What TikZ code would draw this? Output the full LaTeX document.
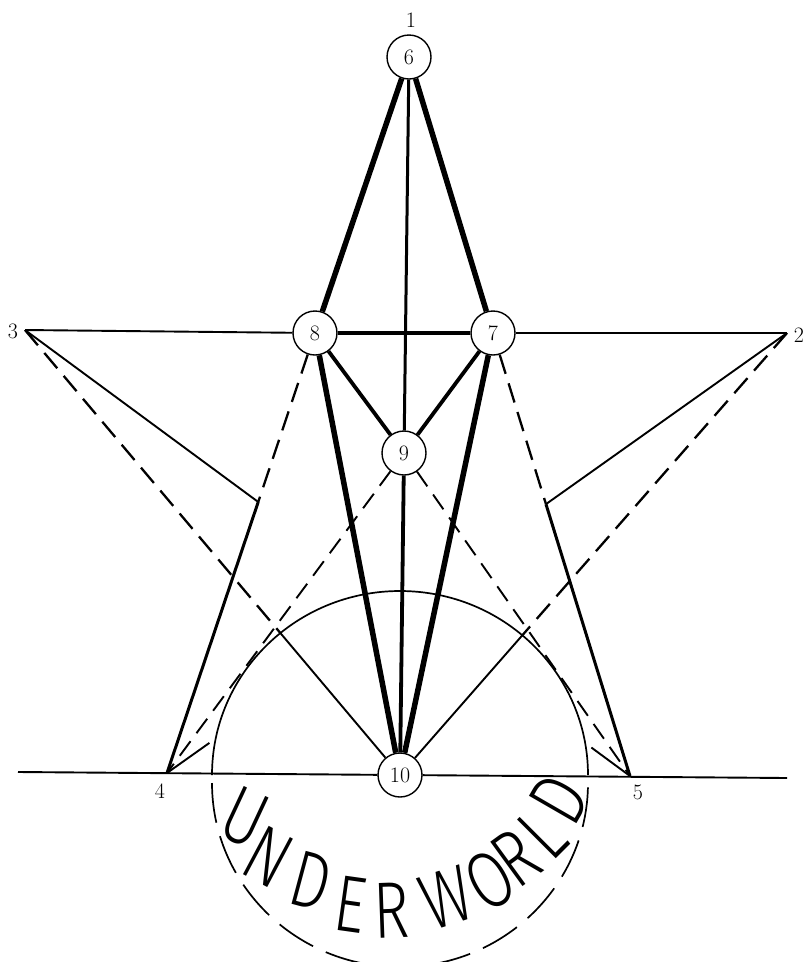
\documentclass[tikz,border=0pt]{standalone}
\usepackage{fontspec}
\newfontfamily\uwfont{Fira Sans Light}
\usetikzlibrary{calc}
\begin{document}
\begin{tikzpicture}[x=1pt,y=1pt,
  vert/.style={circle, draw, line width=1.4pt, minimum size=44pt, inner sep=0pt, fill=white, font=\fontsize{22}{22}\selectfont},
  lbl/.style={inner sep=0pt, font=\fontsize{22}{22}\selectfont},
  heavy/.style={line width=5.5pt},
  medium/.style={line width=3.8pt},
  lean/.style={line width=3pt},
  slim/.style={line width=1.9pt},
  dashline/.style={line width=2.3pt, dash pattern=on 20pt off 10pt},
  dashthin/.style={line width=1.9pt, dash pattern=on 18pt off 10pt},
  dashcirc/.style={line width=1.7pt, dash pattern=on 40pt off 14pt},
  letter/.style={inner sep=0pt, xscale=0.76, font=\uwfont\fontsize{80}{80}\selectfont}]
\useasboundingbox (0,0) rectangle (805,-962);
% coordinates
\coordinate (c6) at (409,-57);
\coordinate (c8) at (315,-333);
\coordinate (c7) at (493,-333);
\coordinate (c9) at (404,-453);
\coordinate (c10) at (400,-775);
\coordinate (P3) at (25,-330);
\coordinate (P2) at (787,-333);
\coordinate (P4) at (167,-773);
\coordinate (P5) at (630,-776);
\coordinate (L0) at (18,-772);
\coordinate (L1) at (787,-778);
\coordinate (X1) at (intersection of P3--P5 and c8--P4);
\coordinate (X2) at (intersection of P2--P4 and c7--P5);
\coordinate (E3) at ($(c10)!186pt!(P3)$);
\coordinate (E2) at ($(c10)!186pt!(P2)$);
\coordinate (F4) at ($(P4)!52pt!(P2)$);
\coordinate (F5) at ($(P5)!48pt!(P3)$);
% nodes
\node[vert] (N6) at (c6) {6};
\node[vert] (N8) at (c8) {8};
\node[vert] (N7) at (c7) {7};
\node[vert] (N9) at (c9) {9};
\node[vert] (N10) at (c10) {10};
% labels
\node[lbl] (t1) at (411,-20) {1};
\node[lbl] (t2) at (799,-335) {2};
\node[lbl] (t3) at (13,-331) {3};
\node[lbl] (t4) at (160,-791) {4};
\node[lbl] (t5) at (638,-792) {5};
% circle
\draw[line width=1.7pt] ($(c10)+(188,0)$) arc[start angle=0, end angle=180, x radius=188, y radius=184];
\draw[dashcirc] ($(c10)+(-188,-8)$) arc[start angle=180, end angle=360, x radius=188, y radius=184];
% base line
\draw[slim] (L0) -- (N10);
\draw[slim] (N10) -- (L1);
% top line
\draw[slim] (P3) -- (N8);
\draw[medium] (N8) -- (N7);
\draw[slim] (N7) -- (P2);
% inner star
\draw[heavy] (N6) -- (N8);
\draw[heavy] (N6) -- (N7);
\draw[lean] (N6) -- (N9);
\draw[medium] (N9) -- (N10);
\draw[medium] (N8) -- (N9);
\draw[medium] (N7) -- (N9);
\draw[heavy] (N8) -- (N10);
\draw[heavy] (N7) -- (N10);
% outer legs
\draw[dashline] (N8) -- (X1);
\draw[lean] (X1) -- (P4);
\draw[dashline] (N7) -- (X2);
\draw[lean] (X2) -- (P5);
\draw[slim] (P3) -- (X1);
\draw[slim] (P2) -- (X2);
\draw[dashline] (P3) -- (E3);
\draw[slim] (E3) -- (N10);
\draw[dashline] (P2) -- (E2);
\draw[slim] (E2) -- (N10);
\draw[dashthin] (N9) -- (P4);
\draw[dashthin] (N9) -- (P5);
\draw[slim] (P4) -- (F4);
\draw[slim] (P5) -- (F5);
% underworld
\node[rotate=-25, letter] (u1) at (245,-817) {U};
\node[rotate=-28, letter] (u2) at (268,-857) {N};
\node[rotate=-15, letter] (u3) at (311,-881) {D};
\node[rotate=-8, letter] (u4) at (351,-905) {E};
\node[rotate=2, letter] (u5) at (391,-910) {R};
\node[rotate=18, letter] (u6) at (446,-898) {W};
\node[rotate=30, letter] (u7) at (490,-880) {O};
\node[rotate=36, letter] (u8) at (516,-858) {R};
\node[rotate=45, letter] (u9) at (542,-834) {L};
\node[rotate=60, letter] (u10) at (559,-799) {D};
\end{tikzpicture}
\end{document}
